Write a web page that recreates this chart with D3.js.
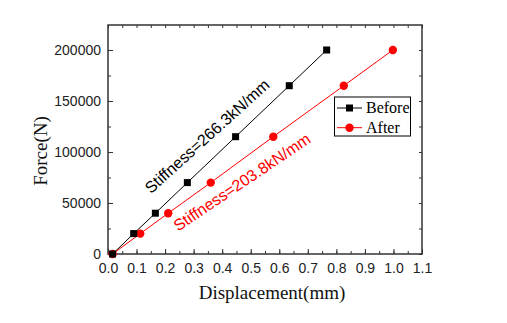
<!DOCTYPE html>
<html><head><meta charset="utf-8">
<script src="https://cdn.jsdelivr.net/npm/d3@7"></script>
<style>body{margin:0;background:#fff}svg{display:block}</style>
</head><body>
<svg id="c" width="507" height="323"></svg>
<script>
const seriesNames = ["Before", "After"];
const beforeX = [0.016, 0.09, 0.166, 0.278, 0.447, 0.635, 0.766];
const beforeY = [0, 20000, 40000, 70000, 115000, 165000, 200000];
const afterX = [0.016, 0.113, 0.211, 0.36, 0.579, 0.826, 0.998];
const afterY = [0, 20000, 40000, 70000, 115000, 165000, 200000];
const xTicks = [0, 0.1, 0.2, 0.3, 0.4, 0.5, 0.6, 0.7, 0.8, 0.9, 1.0, 1.1];
const yTicks = [0, 50000, 100000, 150000, 200000];
const notes = ["Stiffness=266.3kN/mm", "Stiffness=203.8kN/mm"];
const noteX = [0.36, 0.48];
const noteY = [111500, 66000];
const noteAngle = [-42, -34];
const colors = ["#000000", "#ff0000"];

const svg = d3.select("#c");
const L = 108, R = 422, T = 25, B = 254;
const x = d3.scaleLinear().domain([0, 1.1]).range([L, R]);
const y = d3.scaleLinear().domain([0, 224500]).range([B, T]);
const axisColor = "#333";
const tickFont = "'Liberation Sans', Arial, sans-serif";
const serif = "'Liberation Serif', 'Times New Roman', serif";

const minorX = d3.range(0, 1.1001, 0.05);
const minorY = d3.range(0, 224500, 25000);

function styleAxis(g) {
  g.select(".domain").remove();
  g.selectAll("line").attr("stroke", axisColor).attr("stroke-width", 1);
  g.selectAll("text").attr("font-family", tickFont).attr("font-size", 14).attr("fill", "#222");
}
svg.append("g").attr("transform", `translate(0,${B})`)
  .call(d3.axisBottom(x).tickValues(minorX).tickSize(-3).tickFormat(""))
  .call(styleAxis);
svg.append("g").attr("transform", `translate(0,${B})`)
  .call(d3.axisBottom(x).tickValues(xTicks).tickSize(-5).tickPadding(9).tickFormat(d3.format(".1f")))
  .call(styleAxis);
svg.append("g").attr("transform", `translate(0,${T})`)
  .call(d3.axisTop(x).tickValues(minorX).tickSize(-3).tickFormat(""))
  .call(styleAxis);
svg.append("g").attr("transform", `translate(${L},0)`)
  .call(d3.axisLeft(y).tickValues(minorY).tickSize(-3).tickFormat(""))
  .call(styleAxis);
svg.append("g").attr("transform", `translate(${L},0)`)
  .call(d3.axisLeft(y).tickValues(yTicks).tickSize(-5).tickPadding(7).tickFormat(d3.format("d")))
  .call(styleAxis);
svg.append("g").attr("transform", `translate(${R},0)`)
  .call(d3.axisRight(y).tickValues(minorY).tickSize(-3).tickFormat(""))
  .call(styleAxis);
svg.append("rect").attr("x", L).attr("y", T).attr("width", R - L).attr("height", B - T)
  .attr("fill", "none").attr("stroke", axisColor).attr("stroke-width", 1.5);

const series = [
  beforeX.map((d, i) => [d, beforeY[i]]),
  afterX.map((d, i) => [d, afterY[i]])
];
const line = d3.line().x(d => x(d[0])).y(d => y(d[1]));
series.forEach((s, k) => {
  svg.append("path").datum(s).attr("d", line).attr("fill", "none")
    .attr("stroke", colors[k]).attr("stroke-width", 1);
});
function marker(g, k, cx, cy) {
  if (k === 0) g.append("rect").attr("x", cx - 3.5).attr("y", cy - 3.5).attr("width", 7).attr("height", 7).attr("fill", colors[0]);
  else g.append("circle").attr("cx", cx).attr("cy", cy).attr("r", 4.2).attr("fill", colors[1]);
}
[1, 0].forEach(k => {
  const g = svg.append("g");
  series[k].forEach(d => marker(g, k, x(d[0]), y(d[1])));
});

notes.forEach((t, i) => {
  const px = x(noteX[i]), py = y(noteY[i]);
  svg.append("text").attr("transform", `translate(${px},${py}) rotate(${noteAngle[i]})`)
    .attr("text-anchor", "middle").attr("font-family", tickFont).attr("font-size", 16)
    .attr("fill", colors[i]).text(t);
});

const lg = svg.append("g");
lg.append("rect").attr("x", 334.5).attr("y", 97).attr("width", 76).attr("height", 39)
  .attr("fill", "#fff").attr("stroke", "#000").attr("stroke-width", 1);
seriesNames.forEach((n, k) => {
  const ly = 108 + k * 19.7;
  lg.append("line").attr("x1", 337).attr("x2", 362).attr("y1", ly).attr("y2", ly)
    .attr("stroke", colors[k]).attr("stroke-width", 1);
  marker(lg, k, 349.5, ly);
  lg.append("text").attr("x", 366).attr("y", ly + 4.8).attr("font-family", serif)
    .attr("font-size", 16).attr("fill", "#000").text(n);
});

svg.append("text").attr("x", 272).attr("y", 299).attr("text-anchor", "middle")
  .attr("font-family", serif).attr("font-size", 19).attr("fill", "#111").text("Displacement(mm)");
svg.append("text").attr("transform", `translate(47,151) rotate(-90)`).attr("text-anchor", "middle")
  .attr("font-family", serif).attr("font-size", 19).attr("fill", "#111").text("Force(N)");
</script>
</body></html>
